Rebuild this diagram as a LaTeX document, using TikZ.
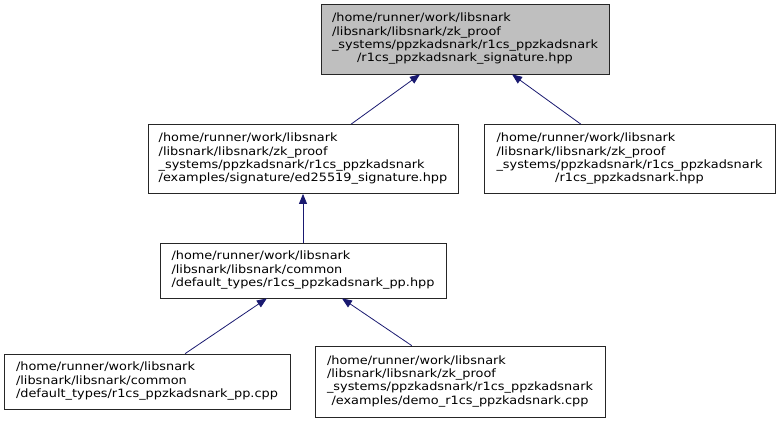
\documentclass[tikz,border=0pt]{standalone}
\usepackage{fontspec}
\setmainfont{DejaVu Sans}[FakeStretch=1.12]
\usepackage{xcolor}
\usetikzlibrary{arrows.meta,calc}
\definecolor{edgeblue}{RGB}{25,25,112}
\definecolor{nodegray}{RGB}{191,191,191}
% path lines left aligned, last line centred
\newcommand{\filepath}[2]{\begin{tabular}{@{}l@{}}#1\\\multicolumn{1}{@{}c@{}}{#2}\end{tabular}}

\begin{document}
\begin{tikzpicture}[x=1pt, y=-1pt,
    file/.style={rectangle, draw=black!85, line width=0.8pt, inner sep=0pt, minimum height=69pt, font=\fontsize{11.5}{13.3}\selectfont},
    arrow/.style={{Triangle[length=10pt,width=8pt]}-, edgeblue, line width=0.8pt}]
\useasboundingbox (0,0) rectangle (780,423);

\node[file, fill=nodegray, minimum width=288pt, minimum height=70pt] (sig) at (465,39)
  {\filepath{/home/runner/work/libsnark\\/libsnark/libsnark/zk\_proof\\\_systems/ppzkadsnark/r1cs\_ppzkadsnark}{/r1cs\_ppzkadsnark\_signature.hpp}};
\node[file, minimum width=310pt] (ed) at (303,159)
  {\filepath{/home/runner/work/libsnark\\/libsnark/libsnark/zk\_proof\\\_systems/ppzkadsnark/r1cs\_ppzkadsnark}{/examples/signature/ed25519\_signature.hpp}};
\node[file, minimum width=291pt] (main) at (629.5,159)
  {\filepath{/home/runner/work/libsnark\\/libsnark/libsnark/zk\_proof\\\_systems/ppzkadsnark/r1cs\_ppzkadsnark}{/r1cs\_ppzkadsnark.hpp}};
\node[file, minimum width=286pt, minimum height=55pt] (pphpp) at (303,270.5)
  {\filepath{/home/runner/work/libsnark\\/libsnark/libsnark/common}{/default\_types/r1cs\_ppzkadsnark\_pp.hpp}};
\node[file, minimum width=286pt, minimum height=55pt] (ppcpp) at (147,381.5)
  {\filepath{/home/runner/work/libsnark\\/libsnark/libsnark/common}{/default\_types/r1cs\_ppzkadsnark\_pp.cpp}};
\node[file, minimum width=290pt, minimum height=71pt] (demo) at (460,381.5)
  {\filepath{/home/runner/work/libsnark\\/libsnark/libsnark/zk\_proof\\\_systems/ppzkadsnark/r1cs\_ppzkadsnark}{/examples/demo\_r1cs\_ppzkadsnark.cpp}};

\draw[arrow] ($(sig.south west)!0.344!(sig.south east)$) -- ($(ed.north west)!0.655!(ed.north east)$);
\draw[arrow] ($(sig.south west)!0.663!(sig.south east)$) -- ($(main.north west)!0.333!(main.north east)$);
\draw[arrow] (ed.south) -- (pphpp.north);
\draw[arrow] ($(pphpp.south west)!0.374!(pphpp.south east)$) -- ($(ppcpp.north west)!0.633!(ppcpp.north east)$);
\draw[arrow] ($(pphpp.south west)!0.636!(pphpp.south east)$) -- ($(demo.north west)!0.334!(demo.north east)$);
\end{tikzpicture}
\end{document}
